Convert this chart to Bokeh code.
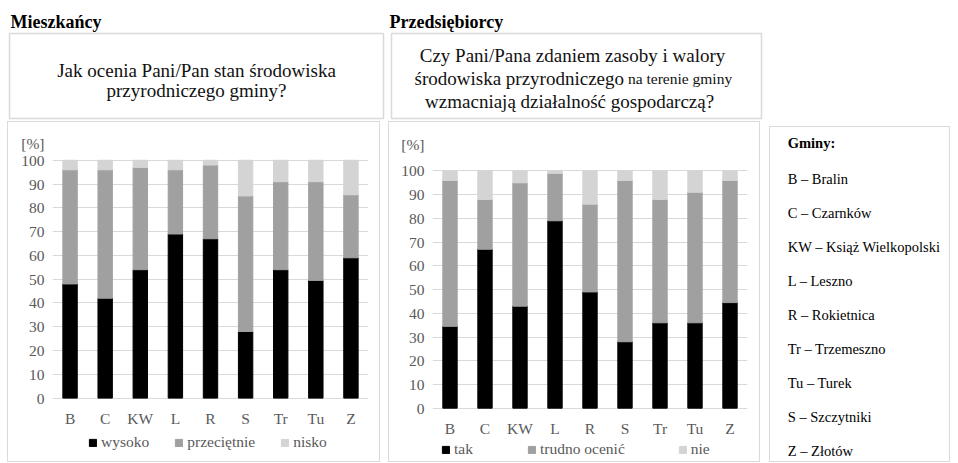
from bokeh.plotting import figure
from bokeh.layouts import column, row
from bokeh.models import (ColumnDataSource, FactorRange, Range1d, Legend, LegendItem,
                          FixedTicker)
from bokeh.embed import file_html
from bokeh.resources import INLINE
from bokeh.core.properties import value

# ---------------- data ----------------
gminy = ["B", "C", "KW", "L", "R", "S", "Tr", "Tu", "Z"]
y_ticks = [0, 10, 20, 30, 40, 50, 60, 70, 80, 90, 100]
unit_label = "[%]"

mieszkancy_wysoko = [48, 42, 54, 69, 67, 28, 54, 49.5, 59]
mieszkancy_przecietnie = [48, 54, 43, 27, 31, 57, 37, 41.5, 26.5]
mieszkancy_nisko = [4, 4, 3, 4, 2, 15, 9, 9, 14.5]
mieszkancy_labels = ["wysoko", "przeciętnie", "nisko"]

przedsiebiorcy_tak = [34.5, 67, 43, 79, 49, 28, 36, 36, 44.5]
przedsiebiorcy_trudno = [61.5, 21, 52, 20, 37, 68, 52, 55, 51.5]
przedsiebiorcy_nie = [4, 12, 5, 1, 14, 4, 12, 9, 4]
przedsiebiorcy_labels = ["tak", "trudno ocenić", "nie"]

gminy_opis = ["B – Bralin", "C – Czarnków", "KW – Książ Wielkopolski", "L – Leszno",
              "R – Rokietnica", "Tr – Trzemeszno", "Tu – Turek", "S – Szczytniki",
              "Z – Złotów"]

title_left = "Mieszkańcy"
title_right = "Przedsiębiorcy"
q_left = ["Jak ocenia Pani/Pan stan środowiska", "przyrodniczego gminy?"]
q_right_1 = "Czy Pani/Pana zdaniem zasoby i walory"
q_right_2a = "środowiska przyrodniczego"
q_right_2b = "na terenie gminy"
q_right_3 = "wzmacniają działalność  gospodarczą?"

# ---------------- style ----------------
SERIF = "Liberation Serif"
BAR_COLORS = ["#000000", "#a0a0a0", "#d4d4d4"]
TXT_GREY = "#595959"
GRID = "#d9d9d9"
BOX = "#dadada"
CHART_FS = "15.5px"
BOX_STYLE = {"border": "1px solid " + BOX}

# ---------------- top header ----------------
top = figure(width=950, height=121, x_range=Range1d(0, 950), y_range=Range1d(121, 0),
             x_axis_type=None, y_axis_type=None, toolbar_location=None, title=None,
             output_backend="svg", min_border=0, outline_line_color=None,
             frame_align=False)
top.quad(left=[9, 391], right=[383, 761], top=[33, 33], bottom=[118, 118],
         fill_color="white", line_color=BOX, line_width=1.5)
top.text(x=[10, 389], y=[21.5, 21.5], text=[title_left, title_right],
         text_font=value(SERIF), text_font_size=value("18px"),
         text_font_style="bold", text_color="black",
         text_align="left", text_baseline="alphabetic")
top.text(x=[196, 196], y=[70, 89.5], text=q_left,
         text_font=value(SERIF), text_font_size=value("19px"), text_color="#111111",
         text_align="center", text_baseline="alphabetic")
top.text(x=[572, 571.5], y=[54.5, 101], text=[q_right_1, q_right_3],
         text_font=value(SERIF), text_font_size=value("19px"), text_color="#111111",
         text_align="center", text_baseline="alphabetic")
top.text(x=[623.5], y=[78], text=[q_right_2a],
         text_font=value(SERIF), text_font_size=value("19px"), text_color="#111111",
         text_align="right", text_baseline="alphabetic")
top.text(x=[627.5], y=[78], text=[q_right_2b],
         text_font=value(SERIF), text_font_size=value("15.5px"), text_color="#111111",
         text_align="left", text_baseline="alphabetic")


def chart(series, labels, width, y_start, y_end, unit_tick, mb_top, mb_left, mb_right,
          leg_loc, leg_spacing):
    data = {"gmina": gminy}
    names = []
    for i, s in enumerate(series):
        data["s%d" % i] = s
        names.append("s%d" % i)
    src = ColumnDataSource(data)
    p = figure(width=width, height=341, x_range=FactorRange(*gminy),
               y_range=Range1d(y_start, y_end),
               toolbar_location=None, output_backend="svg", title=None,
               min_border_top=mb_top, min_border_bottom=0,
               min_border_left=mb_left, min_border_right=mb_right,
               outline_line_color=None, background_fill_color="white",
               frame_align=False, styles=BOX_STYLE)
    rs = p.vbar_stack(names, x="gmina", width=0.41, color=BAR_COLORS, source=src)
    p.yaxis.ticker = FixedTicker(ticks=y_ticks + [unit_tick])
    p.yaxis.major_label_overrides = {unit_tick: unit_label}
    p.ygrid.ticker = FixedTicker(ticks=y_ticks)
    p.xgrid.grid_line_color = None
    p.ygrid.grid_line_color = GRID
    p.ygrid.grid_line_width = 1
    for ax in (p.xaxis, p.yaxis):
        ax.axis_line_color = None
        ax.major_tick_line_color = None
        ax.minor_tick_line_color = None
        ax.major_tick_out = 0
        ax.major_tick_in = 0
        ax.minor_tick_out = 0
        ax.major_label_text_font = SERIF
        ax.major_label_text_font_size = CHART_FS
        ax.major_label_text_color = TXT_GREY
    p.yaxis.major_label_standoff = 8
    p.xaxis.major_label_standoff = 12
    p.xaxis.fixed_location = 0
    legend = Legend(items=[LegendItem(label=l, renderers=[r]) for l, r in zip(labels, rs)],
                    location=leg_loc, orientation="horizontal",
                    glyph_width=9, glyph_height=9, label_standoff=4, spacing=leg_spacing,
                    padding=0, margin=0, border_line_color=None, background_fill_alpha=0,
                    label_text_font=SERIF, label_text_font_size=CHART_FS,
                    label_text_color=TXT_GREY)
    p.add_layout(legend)
    return p


left = chart([mieszkancy_wysoko, mieszkancy_przecietnie, mieszkancy_nisko], mieszkancy_labels,
             373, -27.5, 110, 107, 14, 44, 13, (36, 12), 25)
left.margin = (0, 0, 0, 7)
right = chart([przedsiebiorcy_tak, przedsiebiorcy_trudno, przedsiebiorcy_nie], przedsiebiorcy_labels,
              372, -23.33, 112, 111, 20, 43, 14, (9, 5), 53)
right.margin = (0, 0, 0, 8)

# ---------------- legend box ----------------
leg = figure(width=181, height=336, x_range=Range1d(770, 949), y_range=Range1d(461, 127),
             x_axis_type=None, y_axis_type=None, toolbar_location=None, title=None,
             output_backend="svg", min_border=0, outline_line_color=None,
             frame_align=False, styles=BOX_STYLE)
leg.margin = (5, 0, 0, 9)
leg.text(x=[787], y=[142.5], text=["Gminy:"], text_font=value(SERIF),
         text_font_size=value("14.5px"), text_font_style="bold", text_color="black",
         text_align="left", text_baseline="alphabetic")
leg.text(x=[787] * len(gminy_opis), y=[178 + 33.8 * i for i in range(len(gminy_opis))],
         text=gminy_opis, text_font=value(SERIF), text_font_size=value("14.5px"),
         text_color="black", text_align="left", text_baseline="alphabetic")

layout = column(top, row(left, right, leg, spacing=0), spacing=0)

open("out.html", "w").write(file_html(layout, INLINE))
